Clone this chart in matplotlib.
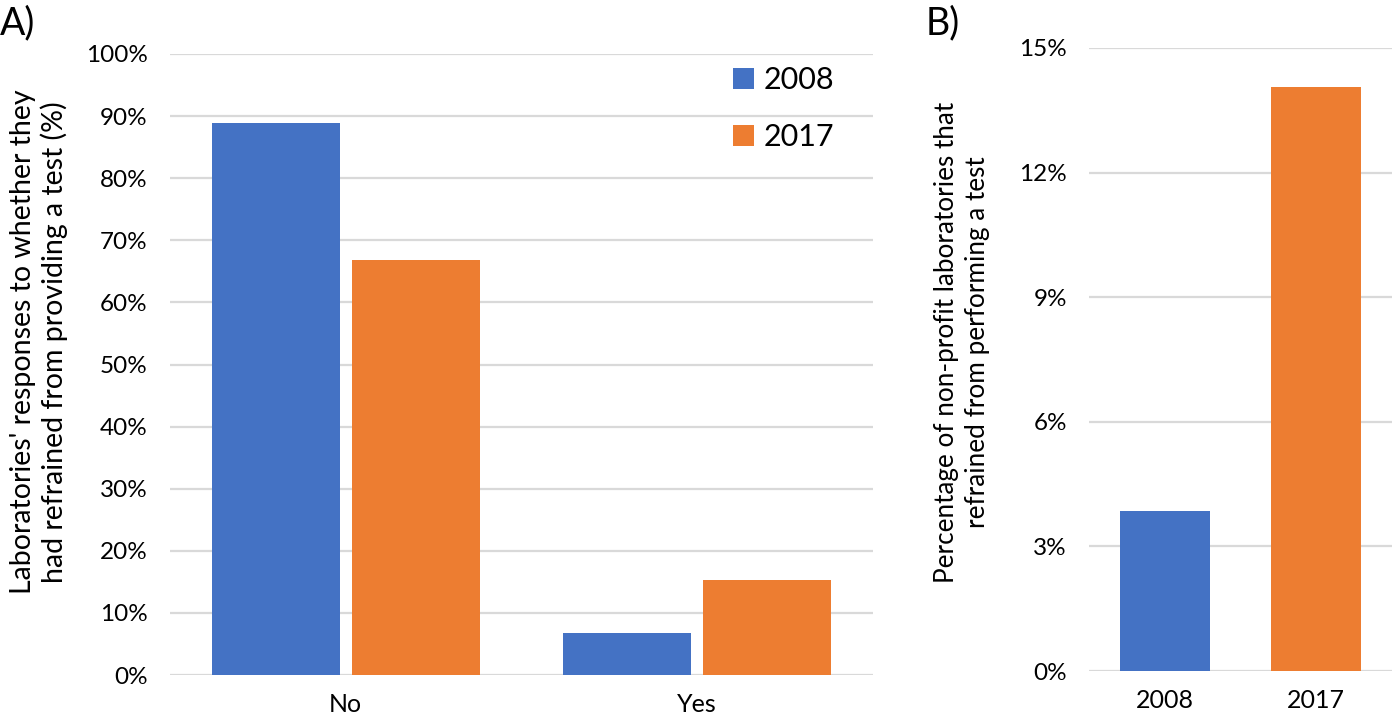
import matplotlib
matplotlib.use("Agg")
import matplotlib.pyplot as plt
from matplotlib.ticker import FuncFormatter
import numpy as np

plt.rcParams['font.family'] = ['Lato', 'DejaVu Sans']

# ---------------- data ----------------
categories_a = ['No', 'Yes']
series_labels = ['2008', '2017']
values_2008_a = [0.889, 0.067]
values_2017_a = [0.668, 0.153]
yticks_a = [0.0, 0.1, 0.2, 0.3, 0.4, 0.5, 0.6, 0.7, 0.8, 0.9, 1.0]

categories_b = ['2008', '2017']
values_b = [0.0386, 0.1405]
yticks_b = [0.0, 0.03, 0.06, 0.09, 0.12, 0.15]

ylabel_a = "Laboratories' responses to whether they\nhad refrained from providing a test (%)"
ylabel_b = "Percentage of non-profit laboratories that\nrefrained from performing a test"

BLUE = '#4472C4'
ORANGE = '#ED7D31'
GRID = '#D9D9D9'

W, H = 1396, 716
fig = plt.figure(figsize=(W / 100, H / 100), dpi=100)

def fx(px):
    return px / W

def fy(py):
    return 1 - py / H

# ---------------- panel A ----------------
axA = fig.add_axes([fx(170), fy(675), fx(873) - fx(170), fy(54) - fy(675)])
x = np.arange(len(categories_a))
bw = 0.364
off = bw / 2 + 0.017
axA.bar(x - off, values_2008_a, width=bw, color=BLUE, label=series_labels[0], zorder=3)
axA.bar(x + off, values_2017_a, width=bw, color=ORANGE, label=series_labels[1], zorder=3)
axA.set_xlim(-0.5, len(categories_a) - 0.5)
axA.set_ylim(0, 1.0)
axA.set_yticks(yticks_a)
axA.yaxis.set_major_formatter(FuncFormatter(lambda v, p: f"{v*100:.0f}%"))
axA.set_xticks(x)
axA.set_xticklabels(categories_a)

# ---------------- panel B ----------------
axB = fig.add_axes([fx(1089), fy(671), fx(1392) - fx(1089), fy(48) - fy(671)])
xb = np.arange(len(categories_b))
axB.bar(xb, values_b, width=0.594, color=[BLUE, ORANGE], zorder=3)
axB.set_xlim(-0.5, len(categories_b) - 0.5)
axB.set_ylim(0, 0.15)
axB.set_yticks(yticks_b)
axB.yaxis.set_major_formatter(FuncFormatter(lambda v, p: f"{v*100:.0f}%"))
axB.set_xticks(xb)
axB.set_xticklabels(categories_b)

for ax in (axA, axB):
    for s in ax.spines.values():
        s.set_visible(False)
    ax.grid(axis='y', color=GRID, linewidth=1.6, zorder=0)
    ax.tick_params(axis='y', length=0, pad=16, labelsize=17.5, colors='black')
    ax.tick_params(axis='x', length=0, pad=13, labelsize=18, colors='black')
    ax.set_axisbelow(True)

# legend
leg = axA.legend(loc='upper left', bbox_to_anchor=(fx(733), fy(66)), bbox_transform=fig.transFigure,
                 frameon=False, fontsize=22, handlelength=0.68, handleheight=0.68,
                 handletextpad=0.33, labelspacing=0.95, borderpad=0, borderaxespad=0)

# y labels
fig.text(fx(39), fy(342), ylabel_a, rotation=90, ha='center', va='center',
         fontsize=20.5, multialignment='center', linespacing=1.15)
fig.text(fx(962), fy(342), ylabel_b, rotation=90, ha='center', va='center',
         fontsize=18.8, multialignment='center', linespacing=1.3)

# panel labels
fig.text(fx(0), fy(23), 'A)', ha='left', va='center', fontsize=27)
fig.text(fx(926), fy(23), 'B)', ha='left', va='center', fontsize=27)

fig.savefig('out.png', dpi=100)
